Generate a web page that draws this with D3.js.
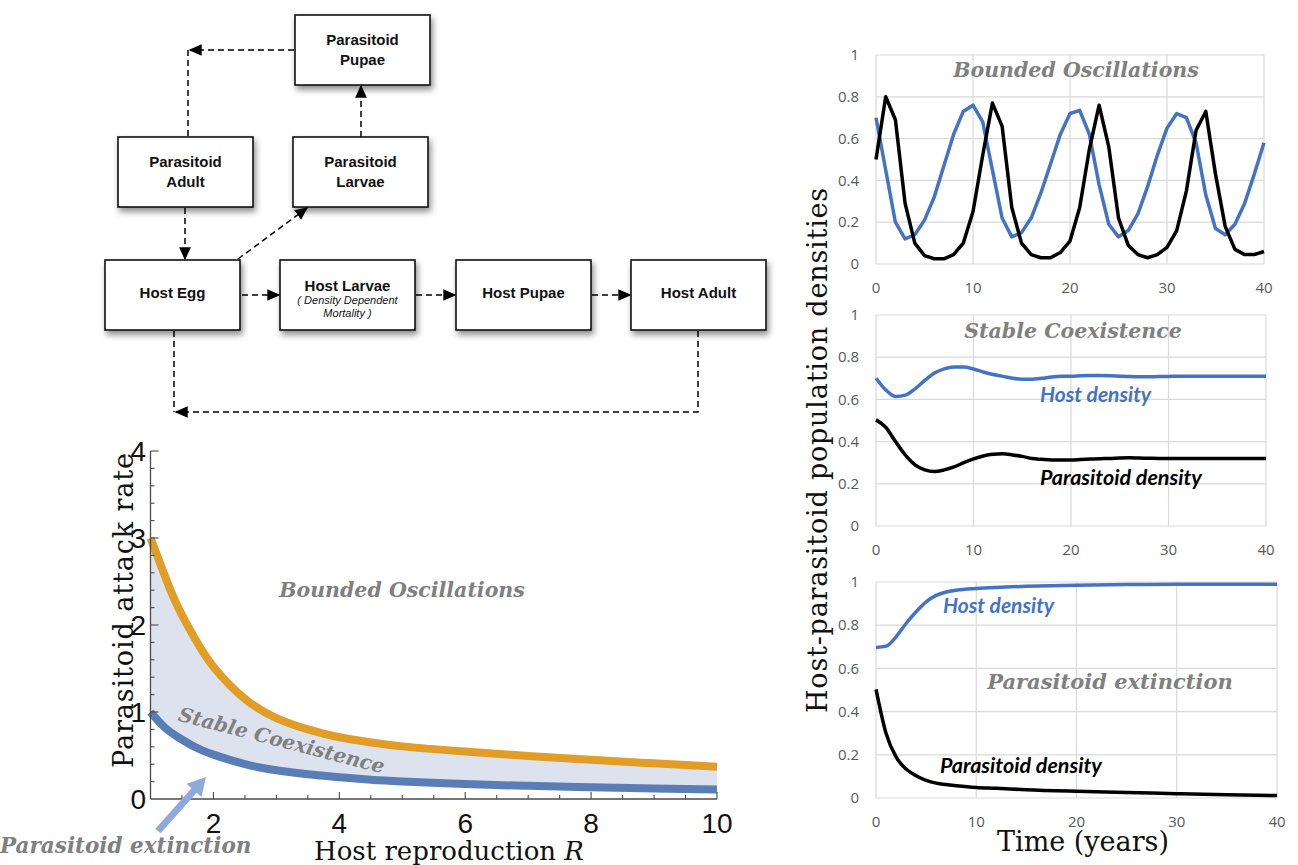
<!DOCTYPE html>
<html>
<head>
<meta charset="utf-8">
<script src="https://cdn.jsdelivr.net/npm/d3@7"></script>
<style>
  body { margin: 0; background: #fff; }
</style>
</head>
<body>
<svg id="fig" width="1298" height="865"></svg>
<script>
// ---------- data ----------
// bounded oscillations (yearly)
const oscYears = d3.range(0, 41);
const oscHost = [0.70, 0.45, 0.20, 0.12, 0.14, 0.21, 0.32, 0.47, 0.62, 0.73, 0.76,
  0.68, 0.45, 0.22, 0.13, 0.15, 0.22, 0.34, 0.48, 0.62, 0.72,
  0.735, 0.62, 0.38, 0.19, 0.13, 0.16, 0.24, 0.37, 0.52, 0.65,
  0.72, 0.70, 0.58, 0.33, 0.17, 0.14, 0.19, 0.29, 0.43, 0.58];
const oscPara = [0.50, 0.80, 0.69, 0.29, 0.10, 0.04, 0.025, 0.025, 0.045, 0.10, 0.25,
  0.52, 0.77, 0.66, 0.27, 0.10, 0.045, 0.03, 0.03, 0.055, 0.11,
  0.27, 0.55, 0.76, 0.56, 0.22, 0.09, 0.045, 0.03, 0.045, 0.08,
  0.16, 0.35, 0.64, 0.73, 0.43, 0.18, 0.07, 0.045, 0.045, 0.06];

// stable coexistence (yearly)
const stableYears = d3.range(0, 41);
const stableHost = [0.70, 0.645, 0.614, 0.62, 0.65, 0.69, 0.725, 0.745, 0.753, 0.753, 0.744,
  0.73, 0.718, 0.709, 0.70, 0.696, 0.696, 0.70, 0.706, 0.71, 0.71,
  0.712, 0.713, 0.713, 0.712, 0.71, 0.708, 0.707, 0.707, 0.708, 0.709,
  0.71, 0.71, 0.71, 0.71, 0.71, 0.71, 0.71, 0.71, 0.71, 0.71];
const stablePara = [0.503, 0.468, 0.40, 0.337, 0.29, 0.266, 0.258, 0.266, 0.28, 0.30, 0.318,
  0.332, 0.34, 0.342, 0.337, 0.33, 0.32, 0.316, 0.313, 0.313, 0.313,
  0.315, 0.317, 0.319, 0.32, 0.322, 0.323, 0.322, 0.321, 0.32, 0.32,
  0.32, 0.32, 0.32, 0.32, 0.32, 0.32, 0.32, 0.32, 0.32, 0.32];

// parasitoid extinction
const extYears = [0, 1, 2, 3, 4, 5, 6, 7, 8, 10, 12, 15, 20, 25, 30, 35, 40];
const extHost = [0.697, 0.703, 0.746, 0.808, 0.862, 0.908, 0.938, 0.954, 0.962, 0.97, 0.975, 0.98, 0.985, 0.988, 0.99, 0.99, 0.99];
const extPara = [0.503, 0.30, 0.19, 0.134, 0.103, 0.082, 0.069, 0.062, 0.057, 0.049, 0.045, 0.038, 0.031, 0.026, 0.02, 0.015, 0.011];

// stability region (host reproduction R vs attack rate)
const regionR = [1, 1.23, 1.44, 1.7, 2, 2.5, 3, 3.5, 4, 4.5, 5, 6, 7, 8, 9, 10];
const upperBound = [3.0, 2.56, 2.2, 1.85, 1.52, 1.15, 0.93, 0.80, 0.71, 0.65, 0.605, 0.545, 0.495, 0.45, 0.41, 0.37];
const lowerBound = [1.0, 0.82, 0.71, 0.60, 0.51, 0.40, 0.33, 0.285, 0.25, 0.222, 0.202, 0.172, 0.151, 0.135, 0.12, 0.108];

const panelYTicks = [0, 0.2, 0.4, 0.6, 0.8, 1];
const panelXTicks = [0, 10, 20, 30, 40];
const regionXTicks = [2, 4, 6, 8, 10];
const regionYTicks = [0, 1, 2, 3, 4];

// life-cycle diagram
const stages = [
  { id: 'ppupae', lines: ['Parasitoid', 'Pupae'] },
  { id: 'padult', lines: ['Parasitoid', 'Adult'] },
  { id: 'plarvae', lines: ['Parasitoid', 'Larvae'] },
  { id: 'hegg', lines: ['Host Egg'] },
  { id: 'hlarvae', lines: ['Host Larvae'], sub: ['( Density Dependent', 'Mortality )'] },
  { id: 'hpupae', lines: ['Host Pupae'] },
  { id: 'hadult', lines: ['Host Adult'] }
];

const HOST = '#4472c4';
const GREY_TXT = '#808080';
const boxW = 135, boxH = 70;
const boxPos = {
  ppupae: [295, 15], padult: [118, 137], plarvae: [293, 137],
  hegg: [105, 260], hlarvae: [280, 260], hpupae: [456, 260], hadult: [631, 260]
};

const svg = d3.select('#fig');
const defs = svg.append('defs');

defs.append('filter').attr('id', 'shadow')
  .attr('x', '-20%').attr('y', '-20%').attr('width', '150%').attr('height', '160%')
  .append('feDropShadow')
  .attr('dx', 2).attr('dy', 4).attr('stdDeviation', 3)
  .attr('flood-color', '#000').attr('flood-opacity', 0.45);

defs.append('marker').attr('id', 'head')
  .attr('viewBox', '0 0 10 10').attr('refX', 9).attr('refY', 5)
  .attr('markerUnits', 'userSpaceOnUse')
  .attr('markerWidth', 13).attr('markerHeight', 13)
  .attr('orient', 'auto')
  .append('path').attr('d', 'M0,0.5 L10,5 L0,9.5 Z').attr('fill', '#000');

// ---------- flow diagram ----------
const flow = svg.append('g');

const links = [
  { pts: [[242, 295], [279, 295]], arrow: true },
  { pts: [[416, 295], [455, 295]], arrow: true },
  { pts: [[592, 295], [630, 295]], arrow: true },
  { pts: [[698, 331], [698, 412], [176, 412]], arrow: true },
  { pts: [[174, 331], [174, 412]], arrow: false },
  { pts: [[185, 208], [185, 259]], arrow: true },
  { pts: [[238, 259], [307, 208]], arrow: true },
  { pts: [[361, 137], [361, 86]], arrow: true },
  { pts: [[294, 50], [190, 50]], arrow: true },
  { pts: [[188, 50], [188, 136]], arrow: false }
];

flow.selectAll('path.link')
  .data(links)
  .join('path')
  .attr('class', 'link')
  .attr('d', d => d3.line()(d.pts))
  .attr('fill', 'none')
  .attr('stroke', '#000')
  .attr('stroke-width', 1.5)
  .attr('stroke-dasharray', '6,4')
  .attr('marker-end', d => d.arrow ? 'url(#head)' : null);

const node = flow.selectAll('g.stage')
  .data(stages)
  .join('g')
  .attr('class', 'stage')
  .attr('transform', d => `translate(${boxPos[d.id][0]},${boxPos[d.id][1]})`);

node.append('rect')
  .attr('width', boxW).attr('height', boxH)
  .attr('fill', '#fff').attr('stroke', '#111').attr('stroke-width', 1.6)
  .attr('filter', 'url(#shadow)');

node.each(function (d) {
  const g = d3.select(this);
  const n = d.lines.length;
  const top = d.sub ? 31 : (n === 2 ? 30 : 38);
  d.lines.forEach((t, i) => {
    g.append('text')
      .attr('x', boxW / 2).attr('y', top + i * 20)
      .attr('text-anchor', 'middle')
      .attr('font-family', 'Liberation Sans, Arial, sans-serif')
      .attr('font-weight', 'bold').attr('font-size', 15)
      .attr('fill', '#111')
      .text(t);
  });
  if (d.sub) {
    d.sub.forEach((t, i) => {
      g.append('text')
        .attr('x', boxW / 2).attr('y', 44 + i * 13)
        .attr('text-anchor', 'middle')
        .attr('font-family', 'Liberation Sans, Arial, sans-serif')
        .attr('font-style', 'italic').attr('font-size', 11)
        .attr('fill', '#111')
        .text(t);
    });
  }
});

// ---------- stability region plot ----------
const rx = d3.scaleLinear().domain([1, 10]).range([150.5, 717]);
const ry = d3.scaleLinear().domain([0, 4]).range([799, 451]);
const region = svg.append('g');
const regionData = regionR.map((r, i) => ({ r, up: upperBound[i], lo: lowerBound[i] }));

region.append('path')
  .datum(regionData)
  .attr('d', d3.area().curve(d3.curveNatural)
    .x(d => rx(d.r)).y0(d => ry(d.lo)).y1(d => ry(d.up)))
  .attr('fill', '#dde3ee');

region.append('path')
  .datum(regionData)
  .attr('d', d3.line().curve(d3.curveNatural).x(d => rx(d.r)).y(d => ry(d.up)))
  .attr('fill', 'none').attr('stroke', '#e19d26').attr('stroke-width', 8);

region.append('path')
  .datum(regionData)
  .attr('d', d3.line().curve(d3.curveNatural).x(d => rx(d.r)).y(d => ry(d.lo)))
  .attr('fill', 'none').attr('stroke', '#5a7db6').attr('stroke-width', 8);

// axes with inward ticks
const axisCol = '#4a4a4a';
region.append('line')
  .attr('x1', rx(1)).attr('x2', rx(10)).attr('y1', ry(0)).attr('y2', ry(0))
  .attr('stroke', axisCol).attr('stroke-width', 1.3);
region.append('line')
  .attr('x1', rx(1)).attr('x2', rx(1)).attr('y1', ry(0)).attr('y2', ry(4))
  .attr('stroke', axisCol).attr('stroke-width', 1.3);

const xMinor = d3.range(1.5, 10.01, 0.5);
region.selectAll('line.xt')
  .data(xMinor)
  .join('line').attr('class', 'xt')
  .attr('x1', d => rx(d)).attr('x2', d => rx(d))
  .attr('y1', ry(0)).attr('y2', d => ry(0) - (d % 2 === 0 ? 7 : 4))
  .attr('stroke', axisCol).attr('stroke-width', 1.1);

const yMinor = d3.range(0.2, 4.01, 0.2);
region.selectAll('line.yt')
  .data(yMinor)
  .join('line').attr('class', 'yt')
  .attr('y1', d => ry(d)).attr('y2', d => ry(d))
  .attr('x1', rx(1)).attr('x2', d => rx(1) + (Math.abs(d - Math.round(d)) < 1e-6 ? 8 : 4))
  .attr('stroke', axisCol).attr('stroke-width', 1.1);

region.selectAll('text.xl')
  .data(regionXTicks)
  .join('text').attr('class', 'xl')
  .attr('x', d => rx(d)).attr('y', 833)
  .attr('text-anchor', 'middle')
  .attr('font-family', 'Liberation Sans, Arial, sans-serif').attr('font-size', 28)
  .attr('fill', '#111').text(d => d);

region.selectAll('text.yl')
  .data(regionYTicks)
  .join('text').attr('class', 'yl')
  .attr('x', 146).attr('y', d => ry(d)).attr('dy', '0.36em')
  .attr('text-anchor', 'end')
  .attr('font-family', 'Liberation Sans, Arial, sans-serif').attr('font-size', 28)
  .attr('fill', '#111').text(d => d);

region.append('text')
  .attr('transform', 'translate(133,610) rotate(-90)')
  .attr('text-anchor', 'middle')
  .attr('font-family', 'DejaVu Serif, serif').attr('font-size', 27)
  .attr('letter-spacing', 0.9)
  .attr('fill', '#111').text('Parasitoid attack rate');

const xt = region.append('text')
  .attr('x', 449).attr('y', 860)
  .attr('text-anchor', 'middle')
  .attr('font-family', 'DejaVu Serif, serif').attr('font-size', 26)
  .attr('fill', '#111');
xt.append('tspan').text('Host reproduction ');
xt.append('tspan').attr('font-style', 'italic').text('R');

const annoFont = 'DejaVu Serif, serif';
region.append('text')
  .attr('x', 402).attr('y', 597)
  .attr('text-anchor', 'middle')
  .attr('font-family', annoFont).attr('font-weight', 'bold').attr('font-style', 'italic')
  .attr('font-size', 20.5).attr('fill', GREY_TXT)
  .text('Bounded Oscillations');

region.append('text')
  .attr('transform', 'translate(280,747) rotate(14.5)')
  .attr('text-anchor', 'middle')
  .attr('font-family', annoFont).attr('font-weight', 'bold').attr('font-style', 'italic')
  .attr('font-size', 20).attr('fill', GREY_TXT)
  .text('Stable Coexistence');

region.append('text')
  .attr('x', 0).attr('y', 853)
  .attr('font-family', annoFont).attr('font-weight', 'bold').attr('font-style', 'italic')
  .attr('font-size', 21.5).attr('fill', GREY_TXT)
  .text('Parasitoid extinction');

// pointer arrow to the extinction zone
(function () {
  const x0 = 158, y0 = 831, x1 = 206, y1 = 777;
  const ang = Math.atan2(y1 - y0, x1 - x0);
  const len = Math.hypot(x1 - x0, y1 - y0);
  const sw = 3.5, hw = 10, hl = 18;
  const p = [[0, -sw], [len - hl, -sw], [len - hl, -hw], [len, 0], [len - hl, hw], [len - hl, sw], [0, sw]];
  region.append('path')
    .attr('d', d3.line()(p) + 'Z')
    .attr('transform', `translate(${x0},${y0}) rotate(${ang * 180 / Math.PI})`)
    .attr('fill', '#8eaadc');
})();

// ---------- time series panels ----------
const panels = [
  { x: [876, 1264], y: [264, 55], years: oscYears, host: oscHost, para: oscPara, curve: d3.curveLinear,
    title: 'Bounded Oscillations', titleX: 1076, titleY: 77, titleSize: 20.5 },
  { x: [876, 1266], y: [526, 315], years: stableYears, host: stableHost, para: stablePara, curve: d3.curveMonotoneX,
    title: 'Stable Coexistence', titleX: 1073, titleY: 338, titleSize: 20.5,
    hostLbl: [1040, 402], paraLbl: [1040, 485] },
  { x: [876, 1277], y: [798, 582], years: extYears, host: extHost, para: extPara, curve: d3.curveMonotoneX,
    title: 'Parasitoid extinction', titleX: 1110, titleY: 689, titleSize: 21,
    hostLbl: [943, 613], paraLbl: [940, 773] }
];

panels.forEach(p => {
  const g = svg.append('g');
  const x = d3.scaleLinear().domain([0, 40]).range(p.x);
  const y = d3.scaleLinear().domain([0, 1]).range(p.y);

  g.selectAll('line.hg').data(panelYTicks).join('line').attr('class', 'hg')
    .attr('x1', p.x[0]).attr('x2', p.x[1]).attr('y1', d => y(d)).attr('y2', d => y(d))
    .attr('stroke', '#d9d9d9').attr('stroke-width', 1.2);
  g.selectAll('line.vg').data(panelXTicks).join('line').attr('class', 'vg')
    .attr('y1', p.y[0]).attr('y2', p.y[1]).attr('x1', d => x(d)).attr('x2', d => x(d))
    .attr('stroke', '#d9d9d9').attr('stroke-width', 1.2);

  g.selectAll('text.yt').data(panelYTicks).join('text').attr('class', 'yt')
    .attr('x', 859).attr('y', d => y(d)).attr('dy', '0.35em')
    .attr('text-anchor', 'end')
    .attr('font-family', 'Open Sans, sans-serif').attr('font-size', 15)
    .attr('fill', '#595959').text(d => d);
  g.selectAll('text.xt').data(panelXTicks).join('text').attr('class', 'xt')
    .attr('x', d => x(d)).attr('y', p.y[0] + 29)
    .attr('text-anchor', 'middle')
    .attr('font-family', 'Open Sans, sans-serif').attr('font-size', 15)
    .attr('fill', '#595959').text(d => d);

  g.append('text')
    .attr('x', p.titleX).attr('y', p.titleY)
    .attr('text-anchor', 'middle')
    .attr('font-family', annoFont).attr('font-weight', 'bold').attr('font-style', 'italic')
    .attr('font-size', p.titleSize).attr('fill', GREY_TXT)
    .text(p.title);

  const line = d3.line().curve(p.curve).x((d, i) => x(p.years[i])).y(d => y(d));
  g.append('path').datum(p.host).attr('d', line)
    .attr('fill', 'none').attr('stroke', HOST).attr('stroke-width', 3.5)
    .attr('stroke-linejoin', 'round');
  g.append('path').datum(p.para).attr('d', line)
    .attr('fill', 'none').attr('stroke', '#000').attr('stroke-width', 3.5)
    .attr('stroke-linejoin', 'round');

  if (p.hostLbl) {
    g.append('text').attr('x', p.hostLbl[0]).attr('y', p.hostLbl[1])
      .attr('font-family', 'Lato, sans-serif').attr('font-weight', 'bold').attr('font-style', 'italic')
      .attr('font-size', 21).attr('fill', HOST).text('Host density');
    g.append('text').attr('x', p.paraLbl[0]).attr('y', p.paraLbl[1])
      .attr('font-family', 'Lato, sans-serif').attr('font-weight', 'bold').attr('font-style', 'italic')
      .attr('font-size', 21.5).attr('fill', '#000').text('Parasitoid density');
  }
});

svg.append('text')
  .attr('transform', 'translate(827,450) rotate(-90)')
  .attr('text-anchor', 'middle')
  .attr('font-family', 'DejaVu Serif, serif').attr('font-size', 27)
  .attr('letter-spacing', 0.8)
  .attr('fill', '#111').text('Host-parasitoid population densities');

svg.append('text')
  .attr('x', 1083).attr('y', 851)
  .attr('text-anchor', 'middle')
  .attr('font-family', 'DejaVu Serif, serif').attr('font-size', 27)
  .attr('fill', '#111').text('Time (years)');
</script>
</body>
</html>
